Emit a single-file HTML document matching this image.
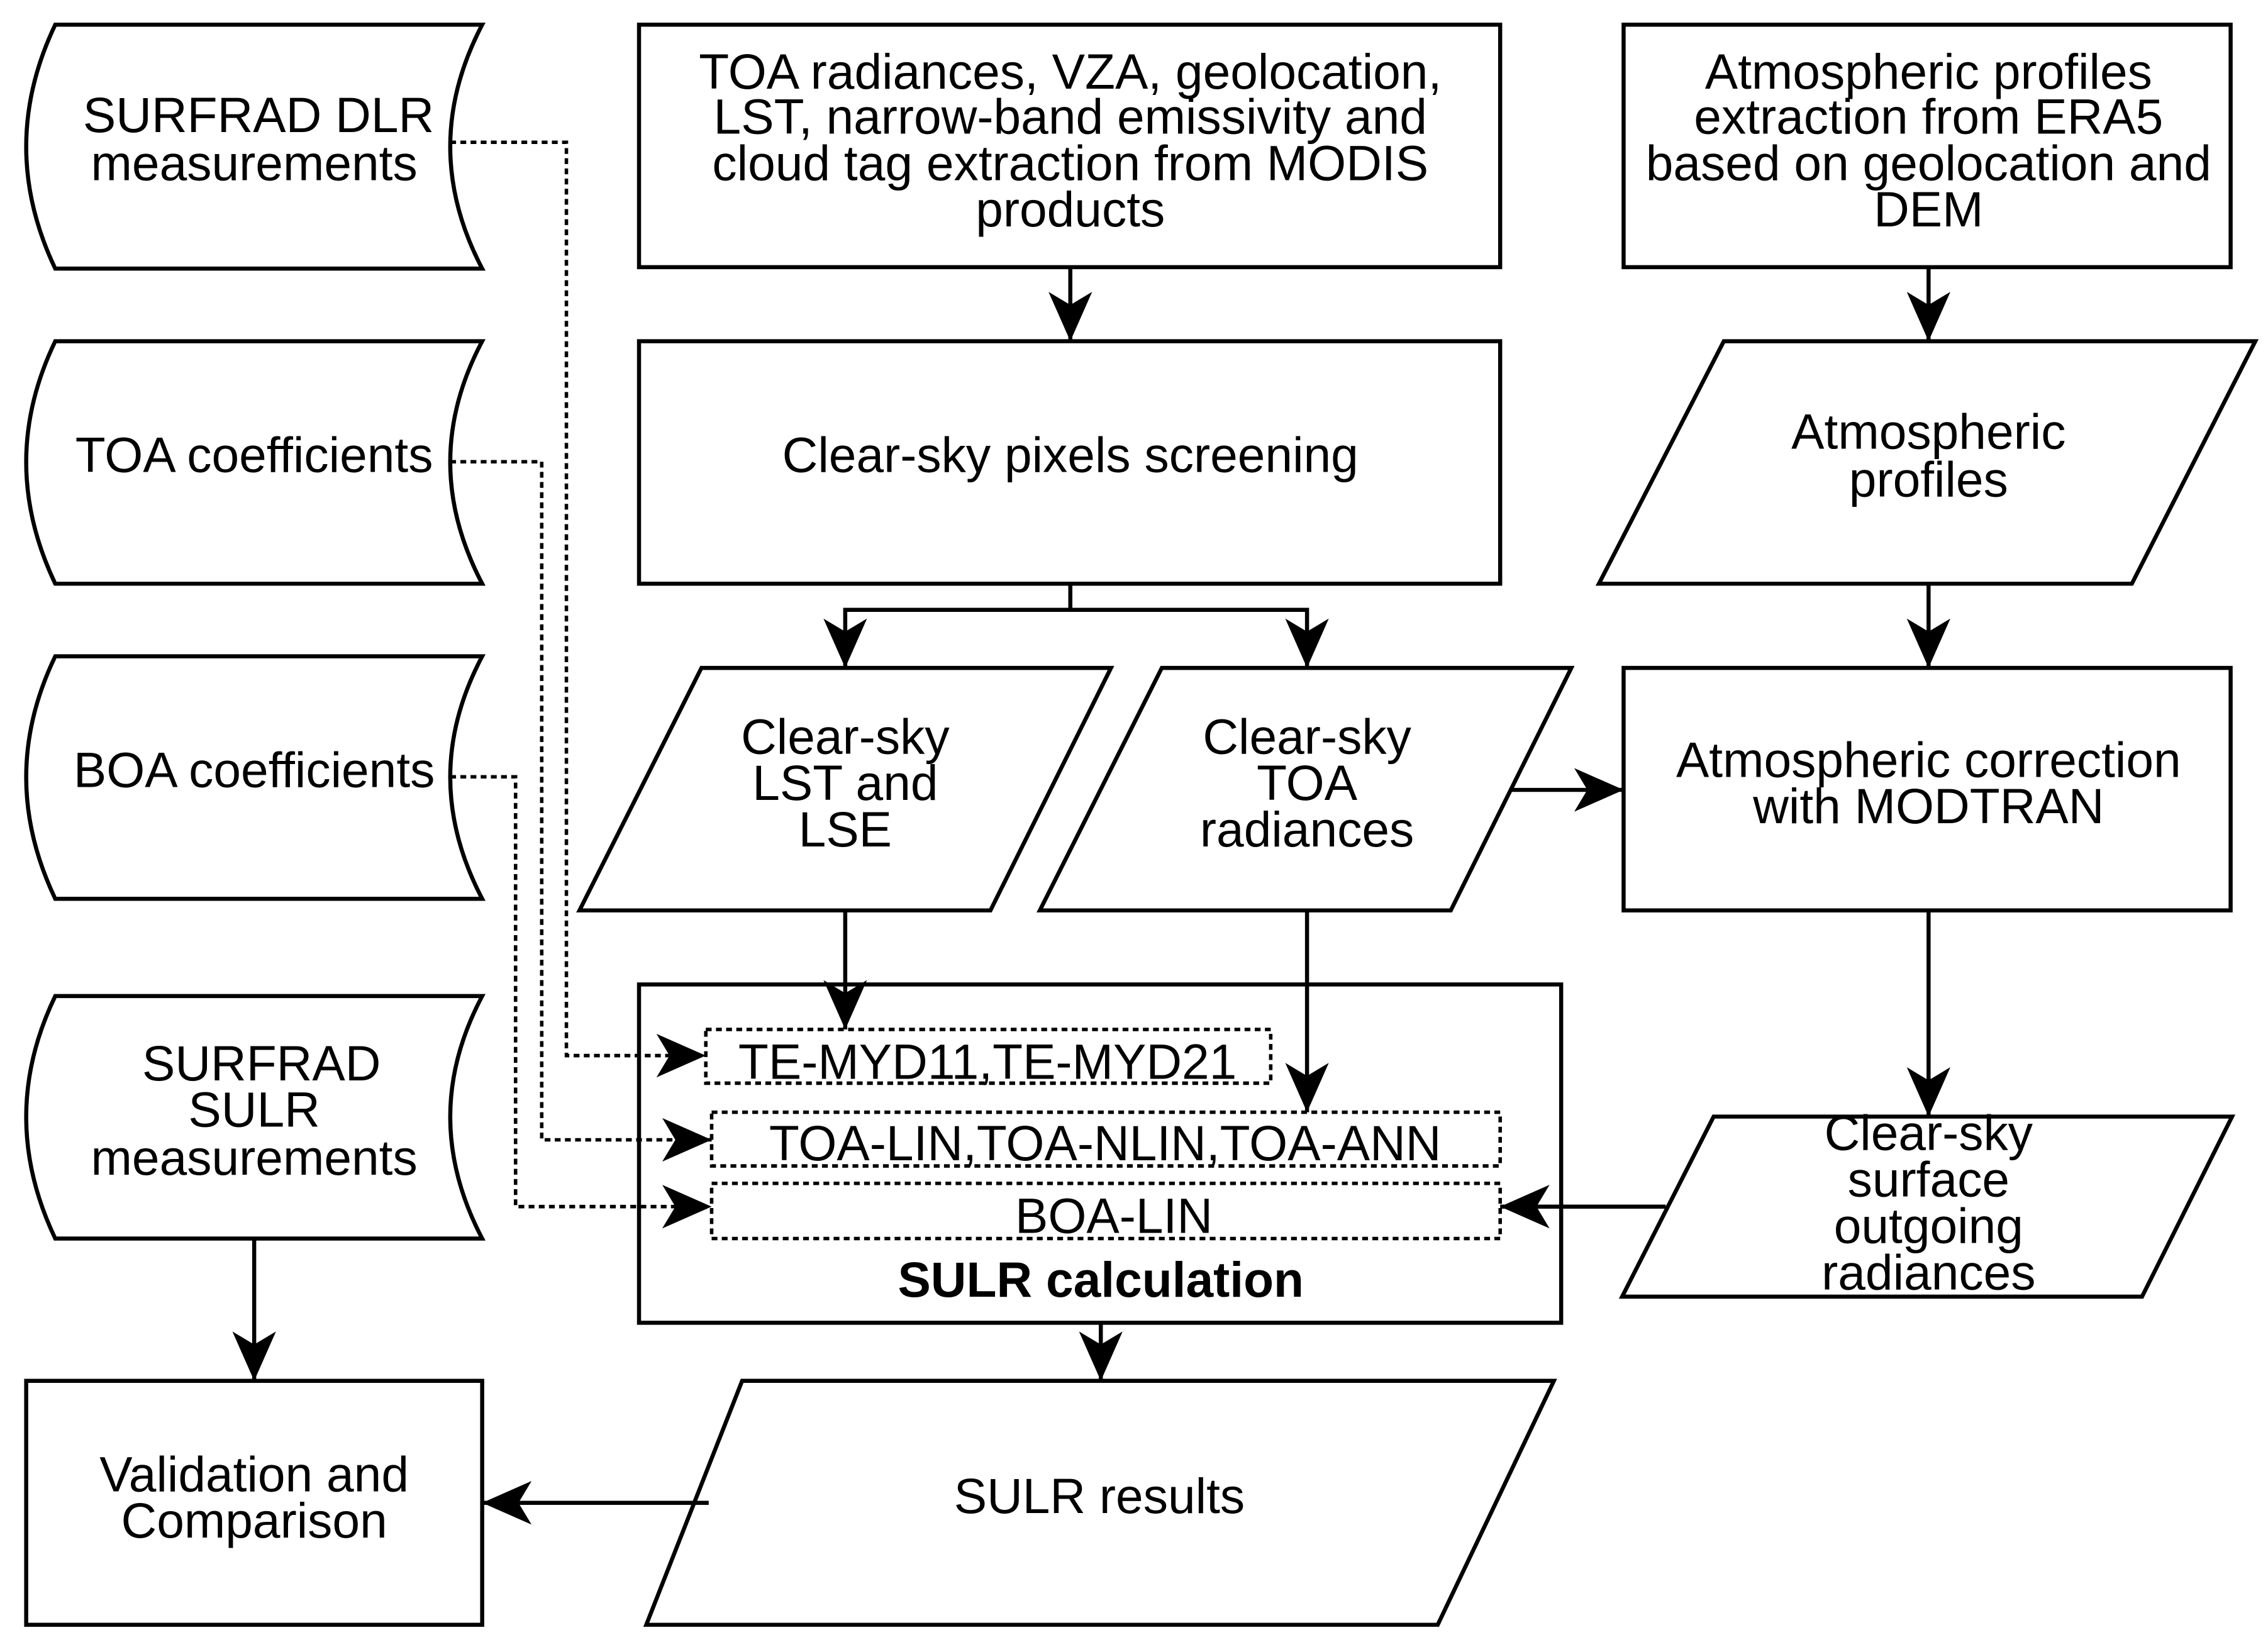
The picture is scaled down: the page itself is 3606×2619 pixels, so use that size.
<!DOCTYPE html>
<html><head><meta charset="utf-8"><style>
html,body{margin:0;padding:0;background:#fff;}
svg{display:block}
text{font-family:"Liberation Sans",Arial,sans-serif;font-size:34px;fill:#000;text-anchor:middle}
</style></head><body>
<svg width="3606" height="2619" viewBox="0 0 1561.7 1134.3" xmlns="http://www.w3.org/2000/svg">
<defs>
<marker id="a" viewBox="0 0 34 30" refX="34" refY="15" markerWidth="34" markerHeight="30" markerUnits="userSpaceOnUse" orient="auto">
<path d="M0,0 L34,15 L0,30 L9,15 Z" fill="#000"/></marker>
</defs>
<g fill="none" stroke="#000" stroke-width="2.8">
<path d="M38,17 L332,17 Q288,101 332,185 L38,185 Q-2,101 38,17 Z"/>
<path d="M38,235 L332,235 Q288,318 332,402 L38,402 Q-2,318 38,235 Z"/>
<path d="M38,452 L332,452 Q288,535 332,619 L38,619 Q-2,535 38,452 Z"/>
<path d="M38,686 L332,686 Q288,769 332,853 L38,853 Q-2,769 38,686 Z"/>
<rect x="18" y="951" width="314" height="168"/>
<rect x="440" y="17" width="593" height="167"/>
<rect x="440" y="235" width="593" height="167"/>
<rect x="1118" y="17" width="418" height="167"/>
<path d="M1187,235 L1553,235 L1468,402 L1101,402 Z"/>
<path d="M483,460 L765,460 L682,627 L399,627 Z"/>
<path d="M800,460 L1082,460 L999,627 L716,627 Z"/>
<rect x="1118" y="460" width="418" height="167"/>
<rect x="440" y="678" width="635" height="233"/>
<path d="M1180,769 L1537,769 L1475,893 L1117,893 Z"/>
<path d="M511,951 L1070,951 L990,1119 L445,1119 Z"/>
<g stroke-dasharray="4,3" stroke-width="2.4">
<rect x="486" y="709" width="389" height="37"/>
<rect x="490" y="766" width="543" height="37"/>
<rect x="490" y="815" width="543" height="38"/>
</g>
<g marker-end="url(#a)">
<path d="M737,184 V235"/>
<path d="M737,402 V420 H582 V460"/>
<path d="M737,420 H900 V460"/>
<path d="M1328,184 V235"/>
<path d="M1328,402 V460"/>
<path d="M1040,544 H1118"/>
<path d="M582,627 V709"/>
<path d="M900,627 V766"/>
<path d="M1328,627 V769"/>
<path d="M1147,831 H1033"/>
<path d="M758,911 V951"/>
<path d="M488,1035 H332"/>
<path d="M175,853 V951"/>
</g>
<g marker-end="url(#a)" stroke-width="2.4">
<path d="M310,98 H390 V727 H486" stroke-dasharray="4,3"/>
<path d="M310,318 H373 V785 H490" stroke-dasharray="4,3"/>
<path d="M310,535 H355 V831 H490" stroke-dasharray="4,3"/>
</g>
</g>
<text x="178" y="91">SURFRAD DLR</text>
<text x="175" y="124">measurements</text>
<text x="175" y="325">TOA coefficients</text>
<text x="175" y="542">BOA coefficients</text>
<text x="180" y="744">SURFRAD</text>
<text x="175" y="776">SULR</text>
<text x="175" y="809">measurements</text>
<text x="175" y="1027">Validation and</text>
<text x="175" y="1059">Comparison</text>
<text x="737" y="61">TOA radiances, VZA,  geolocation,</text>
<text x="737" y="92">LST, narrow-band emissivity and</text>
<text x="737" y="124">cloud tag extraction from MODIS</text>
<text x="737" y="156">products</text>
<text x="737" y="325">Clear-sky pixels screening</text>
<text x="1328" y="61">Atmospheric profiles</text>
<text x="1328" y="92">extraction from ERA5</text>
<text x="1328" y="124">based on geolocation and</text>
<text x="1328" y="156">DEM</text>
<text x="1328" y="309">Atmospheric</text>
<text x="1328" y="342">profiles</text>
<text x="582" y="519">Clear-sky</text>
<text x="582" y="551">LST and</text>
<text x="582" y="583">LSE</text>
<text x="900" y="519">Clear-sky</text>
<text x="900" y="551">TOA</text>
<text x="900" y="583">radiances</text>
<text x="1328" y="535">Atmospheric correction</text>
<text x="1328" y="567">with MODTRAN</text>
<text x="680" y="743">TE-MYD11,TE-MYD21</text>
<text x="761" y="799">TOA-LIN,TOA-NLIN,TOA-ANN</text>
<text x="767" y="849">BOA-LIN</text>
<text x="758" y="893" font-weight="bold">SULR calculation</text>
<text x="1328" y="792">Clear-sky</text>
<text x="1328" y="824">surface</text>
<text x="1328" y="856">outgoing</text>
<text x="1328" y="888">radiances</text>
<text x="757" y="1042">SULR results</text>
</svg>
</body></html>
